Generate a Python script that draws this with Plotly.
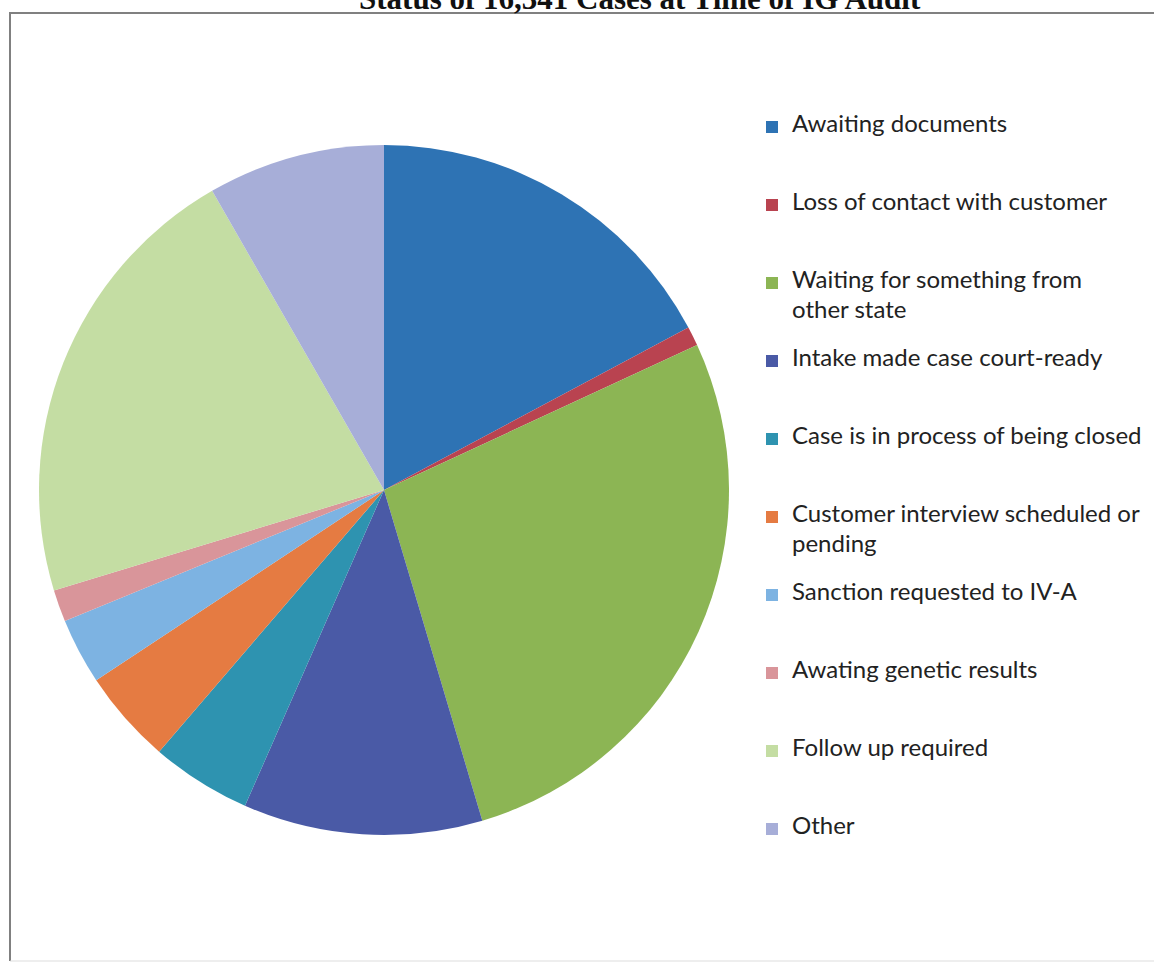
import plotly.graph_objects as go

# ---- data ----
categories = [
    "Awaiting documents",
    "Loss of contact with customer",
    "Waiting for something from<br>other state",
    "Intake made case court-ready",
    "Case is in process of being closed",
    "Customer interview scheduled or<br>pending",
    "Sanction requested to IV-A",
    "Awating genetic results",
    "Follow up required",
    "Other",
]
share_pct = [17.2, 0.9, 27.3, 11.2, 4.7, 4.4, 3.1, 1.5, 21.4, 8.3]
slice_colors = [
    "#2E73B4", "#B94350", "#8CB554", "#4A5AA6", "#2E93B0",
    "#E57B42", "#7DB3E2", "#D9959A", "#C4DDA3", "#A7AED8",
]
title_text = "Status of 16,341 Cases at Time of IG Audit"

W, H = 1154, 963
TEXT_PX = 24          # rendered size of legend text
LINES_PER_ITEM = 5    # legend rows per entry (sets the entry pitch)
ENTRY_PITCH = 78      # px between legend entries
LEGEND_FS = (ENTRY_PITCH - 3) / LINES_PER_ITEM / 1.3


def legend_label(lbl):
    parts = lbl.split("<br>")
    rows = [" "] * LINES_PER_ITEM
    for i, ln in enumerate(parts):
        rows[i * 2] = f'<span style="font-size:{TEXT_PX}px">{ln}</span>'
    return "<br>".join(rows)


labels = [legend_label(c) for c in categories]

cx, cy, r = 384, 490, 345

fig = go.Figure(
    go.Pie(
        labels=labels,
        values=share_pct,
        sort=False,
        direction="clockwise",
        rotation=0,
        textinfo="none",
        hoverinfo="percent",
        marker=dict(colors=slice_colors, line=dict(width=0)),
        domain=dict(
            x=[(cx - r) / W, (cx + r) / W],
            y=[(H - (cy + r)) / H, (H - (cy - r)) / H],
        ),
    )
)

fig.update_layout(
    width=W,
    height=H,
    margin=dict(l=0, r=0, t=0, b=0),
    paper_bgcolor="white",
    plot_bgcolor="white",
    showlegend=True,
    legend=dict(
        x=752 / W,
        xanchor="left",
        y=1 - 113 / H,
        yanchor="top",
        valign="top",
        font=dict(family="Lato, Open Sans, sans-serif", size=LEGEND_FS, color="#222222"),
        bgcolor="rgba(0,0,0,0)",
        itemclick=False,
    ),
    annotations=[
        dict(
            text=f"<b>{title_text}</b>",
            xref="paper", yref="paper",
            x=640 / W, y=1 + 1.5 / H,
            xanchor="center", yanchor="middle",
            showarrow=False,
            font=dict(family="Liberation Serif, Times New Roman, serif", size=31, color="#111111"),
        )
    ],
    shapes=[
        dict(type="line", xref="paper", yref="paper",
             x0=10 / W, x1=1, y0=1 - 13 / H, y1=1 - 13 / H,
             line=dict(color="#808080", width=2)),
        dict(type="line", xref="paper", yref="paper",
             x0=10 / W, x1=10 / W, y0=1 - 12 / H, y1=1 - 961 / H,
             line=dict(color="#808080", width=2)),
        dict(type="line", xref="paper", yref="paper",
             x0=10 / W, x1=1, y0=1 - 961 / H, y1=1 - 961 / H,
             line=dict(color="#dddddd", width=1)),
    ],
)

fig.write_html("out.html")
